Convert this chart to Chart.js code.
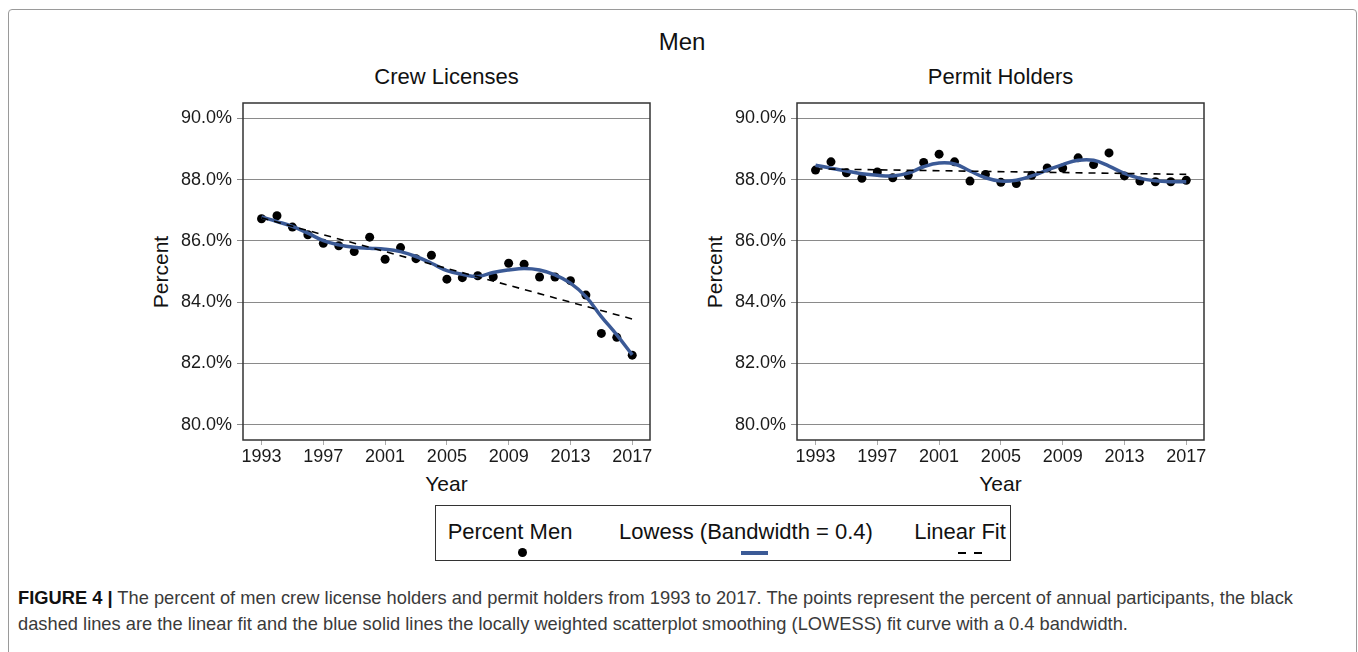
<!DOCTYPE html>
<html><head><meta charset="utf-8">
<script src="https://cdn.jsdelivr.net/npm/chart.js@4"></script>
<style>
body{margin:0;background:#fff;width:1358px;height:652px;overflow:hidden;position:relative;font-family:"Liberation Sans",Arial,sans-serif;}
.frame{position:absolute;left:8px;top:9px;width:1347px;height:700px;border:1px solid #9a9a9a;border-radius:4px;}
.t{position:absolute;white-space:nowrap;color:#111;transform:translate(-50%,-50%);line-height:1;}
.rot{transform:translate(-50%,-50%) rotate(-90deg);}
canvas{position:absolute;}
.legend{position:absolute;left:435px;top:505px;width:576px;height:56px;border:1px solid #333;box-sizing:border-box;}
.cap{position:absolute;left:18px;white-space:nowrap;color:#3a3a3a;font-family:"Liberation Sans Narrow","Arial Narrow","Liberation Sans",sans-serif;font-size:19px;transform-origin:0 50%;line-height:1;}
.cap b{color:#111;}
</style></head><body>
<div class="frame"></div>
<div class="t" style="left:682px;top:42px;font-size:24px;">Men</div>
<div class="t" style="left:446.5px;top:77px;font-size:22px;">Crew Licenses</div>
<div class="t" style="left:1000.5px;top:77px;font-size:22px;">Permit Holders</div>
<div class="t rot" style="left:160px;top:271.5px;font-size:21px;">Percent</div>
<div class="t rot" style="left:714px;top:271.5px;font-size:21px;">Percent</div>
<div class="t" style="left:446.5px;top:483px;font-size:21px;">Year</div>
<div class="t" style="left:1000.5px;top:483px;font-size:21px;">Year</div>
<canvas id="c1" width="540" height="440" style="left:130px;top:60px;width:540px;height:440px;"></canvas>
<canvas id="c2" width="540" height="440" style="left:684px;top:60px;width:540px;height:440px;"></canvas>
<div class="legend"></div>
<div class="t" style="left:510px;top:532px;font-size:22px;">Percent Men</div>
<div style="position:absolute;left:518px;top:548px;width:9px;height:9px;border-radius:50%;background:#000;"></div>
<div class="t" style="left:746px;top:532px;font-size:22px;">Lowess (Bandwidth = 0.4)</div>
<div style="position:absolute;left:741px;top:551px;width:27px;height:3.5px;background:#3b5a96;"></div>
<div class="t" style="left:960px;top:532px;font-size:22px;">Linear Fit</div>
<div style="position:absolute;left:958px;top:552px;width:8px;height:2px;background:#000;"></div>
<div style="position:absolute;left:974px;top:552px;width:8px;height:2px;background:#000;"></div>
<div class="cap" id="cap1" style="top:597px;"><b>FIGURE 4 |</b> The percent of men crew license holders and permit holders from 1993 to 2017. The points represent the percent of annual participants, the black</div>
<div class="cap" id="cap2" style="top:623px;">dashed lines are the linear fit and the blue solid lines the locally weighted scatterplot smoothing (LOWESS) fit curve with a 0.4 bandwidth.</div>
<script>
const years = [1993,1994,1995,1996,1997,1998,1999,2000,2001,2002,2003,2004,2005,2006,2007,2008,2009,2010,2011,2012,2013,2014,2015,2016,2017];
const crewPercent = [86.72,86.82,86.45,86.20,85.92,85.84,85.65,86.12,85.40,85.78,85.42,85.53,84.75,84.80,84.86,84.83,85.27,85.24,84.82,84.82,84.70,84.23,82.98,82.85,82.27];
const crewLowess  = [86.78,86.63,86.47,86.25,86.01,85.87,85.79,85.76,85.73,85.65,85.49,85.27,85.03,84.91,84.84,84.97,85.05,85.10,85.05,84.89,84.62,84.18,83.53,82.93,82.28];
const permitPercent = [88.31,88.58,88.22,88.04,88.25,88.06,88.14,88.56,88.83,88.58,87.95,88.17,87.91,87.87,88.14,88.38,88.38,88.71,88.49,88.87,88.12,87.95,87.93,87.93,87.98];
const permitLowess  = [88.47,88.37,88.28,88.19,88.14,88.12,88.21,88.42,88.54,88.51,88.28,88.06,87.95,87.98,88.12,88.31,88.49,88.63,88.63,88.44,88.20,88.04,87.96,87.93,87.93];
const fitYears = [1993,2017];
const crewLinear = [86.75,83.45];
const permitLinear = [88.35,88.17];
const xTickLabels = [1993,1997,2001,2005,2009,2013,2017];
const yTickLabels = [80,82,84,86,88,90];

const FONT = '"Liberation Sans", Arial, sans-serif';
const framePlugin = {
  id:'frame',
  beforeDatasetsDraw(chart){
    const a = chart.chartArea, ctx = chart.ctx;
    ctx.save(); ctx.strokeStyle='#333'; ctx.lineWidth=1.5;
    ctx.strokeRect(a.left, a.top, a.right-a.left, a.bottom-a.top);
    ctx.restore();
  }
};
function pairs(xs, ys){ return xs.map((x,i)=>({x:x, y:ys[i]})); }
function makeChart(id, pts, low, lin){
  return new Chart(document.getElementById(id), {
    type:'scatter',
    data:{datasets:[
      {type:'line', data:pairs(fitYears, lin), borderColor:'#000', borderWidth:1.6, borderDash:[7,6], pointRadius:0, fill:false, order:1},
      {type:'line', data:pairs(years, low), borderColor:'#3b5a96', borderWidth:3.5, pointRadius:0, tension:0.4, fill:false, order:2},
      {type:'scatter', data:pairs(years, pts), backgroundColor:'#000', borderColor:'#000', pointRadius:4.5, borderWidth:0, order:3}
    ]},
    options:{
      responsive:false, animation:false, events:[],
      layout:{padding:{top:43,right:20,left:0,bottom:0}},
      plugins:{legend:{display:false}, tooltip:{enabled:false}},
      scales:{
        x:{type:'linear', min:1991.8, max:2018.15,
           afterBuildTicks:s=>{s.ticks = xTickLabels.map(v=>({value:v}));},
           afterFit:s=>{s.height=60;},
           grid:{drawOnChartArea:false, drawTicks:true, tickLength:5, color:'#aaa'},
           border:{display:false},
           ticks:{font:{size:18, family:FONT}, color:'#1a1a1a', padding:1, maxRotation:0, autoSkip:false, callback:v=>String(v)}},
        y:{type:'linear', min:79.5, max:90.5,
           afterBuildTicks:s=>{s.ticks = yTickLabels.map(v=>({value:v}));},
           afterFit:s=>{s.width=113;},
           grid:{color:'#8a8a8a', lineWidth:1, tickLength:6},
           border:{display:false},
           ticks:{font:{size:18, family:FONT}, color:'#1a1a1a', padding:5, autoSkip:false, callback:v=>Number(v).toFixed(1)+'%'}}
      }
    },
    plugins:[framePlugin]
  });
}
makeChart('c1', crewPercent, crewLowess, crewLinear);
makeChart('c2', permitPercent, permitLowess, permitLinear);

function fitCaption(){
  const c1 = document.getElementById('cap1'), c2 = document.getElementById('cap2');
  c1.style.transform='none'; c2.style.transform='none';
  const w = c1.getBoundingClientRect().width;
  const s = 1275 / w;
  c1.style.transform = 'translateY(-50%) scaleX('+s+')';
  c2.style.transform = 'translateY(-50%) scaleX('+s+')';
}
fitCaption();
if (document.fonts && document.fonts.ready) document.fonts.ready.then(fitCaption);
</script>
</body></html>
